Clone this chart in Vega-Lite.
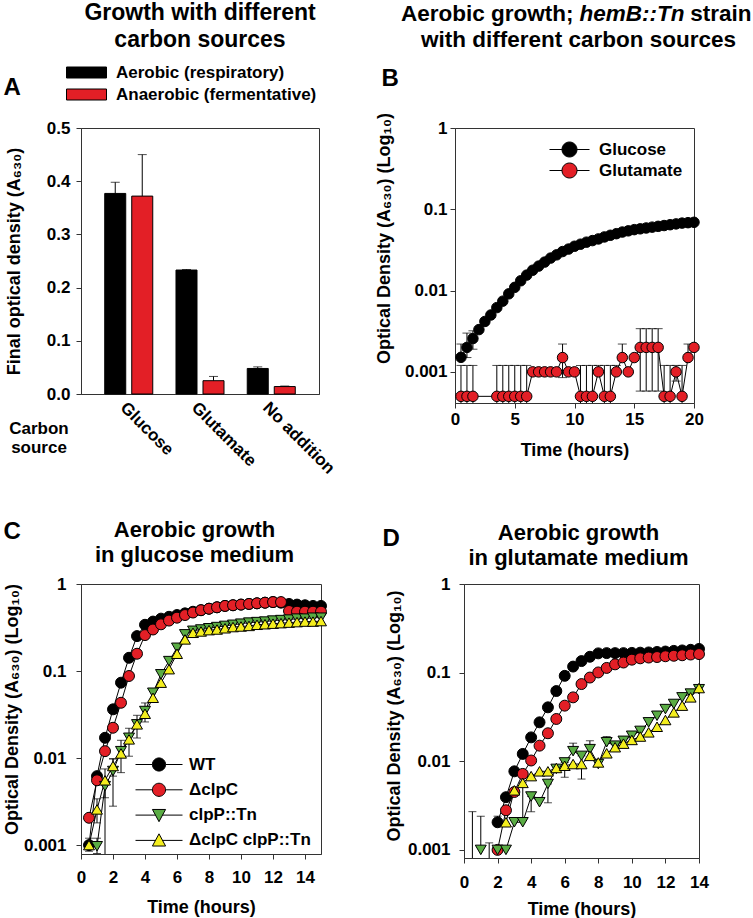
{
"$schema": "https://vega.github.io/schema/vega-lite/v6.json",
"padding": {"left": 2, "top": 0, "right": 2, "bottom": 2},
"config": {
  "font": "Liberation Sans",
  "view": {"stroke": "#333", "strokeWidth": 1},
  "axis": {"labelFont": "Liberation Sans", "titleFont": "Liberation Sans", "labelFontSize": 17, "labelFontWeight": "bold", "labelColor": "#000", "titleFontSize": 18, "titleFontWeight": "bold", "titleColor": "#000", "domainColor": "#333", "tickColor": "#333", "tickSize": 5, "grid": false, "labelFlush": false, "labelOverlap": false},
  "legend": {"labelFont": "Liberation Sans", "labelFontSize": 17, "labelFontWeight": "bold", "labelColor": "#000", "padding": 0, "labelLimit": 400}
},
"datasets": {
  "dsA": [
    {"source": "Glucose", "cond": "Aerobic (respiratory)", "od": 0.377, "hi": 0.398},
    {"source": "Glucose", "cond": "Anaerobic (fermentative)", "od": 0.372, "hi": 0.45},
    {"source": "Glutamate", "cond": "Aerobic (respiratory)", "od": 0.233, "hi": 0.234},
    {"source": "Glutamate", "cond": "Anaerobic (fermentative)", "od": 0.025, "hi": 0.033},
    {"source": "No addition", "cond": "Aerobic (respiratory)", "od": 0.048, "hi": 0.051},
    {"source": "No addition", "cond": "Anaerobic (fermentative)", "od": 0.014, "hi": 0.015}
  ],
  "dsB": [
    {"s": "Glucose", "t": 0.5, "od": 0.00151, "lo": 0.00151, "hi": 0.0022},
    {"s": "Glucose", "t": 1, "od": 0.002, "lo": 0.0015, "hi": 0.003},
    {"s": "Glucose", "t": 1.5, "od": 0.00257, "lo": 0.0019, "hi": 0.0032},
    {"s": "Glucose", "t": 2, "od": 0.00331},
    {"s": "Glucose", "t": 2.5, "od": 0.00417},
    {"s": "Glucose", "t": 3, "od": 0.00501},
    {"s": "Glucose", "t": 3.5, "od": 0.00617},
    {"s": "Glucose", "t": 4, "od": 0.00741},
    {"s": "Glucose", "t": 4.5, "od": 0.00912},
    {"s": "Glucose", "t": 5, "od": 0.01096},
    {"s": "Glucose", "t": 5.5, "od": 0.0132},
    {"s": "Glucose", "t": 6, "od": 0.0155},
    {"s": "Glucose", "t": 6.5, "od": 0.0178},
    {"s": "Glucose", "t": 7, "od": 0.02},
    {"s": "Glucose", "t": 7.5, "od": 0.0224},
    {"s": "Glucose", "t": 8, "od": 0.0251},
    {"s": "Glucose", "t": 8.5, "od": 0.0275},
    {"s": "Glucose", "t": 9, "od": 0.0302},
    {"s": "Glucose", "t": 9.5, "od": 0.0324},
    {"s": "Glucose", "t": 10, "od": 0.0351},
    {"s": "Glucose", "t": 10.5, "od": 0.0372},
    {"s": "Glucose", "t": 11, "od": 0.0394},
    {"s": "Glucose", "t": 11.5, "od": 0.0412},
    {"s": "Glucose", "t": 12, "od": 0.0432},
    {"s": "Glucose", "t": 12.5, "od": 0.0457},
    {"s": "Glucose", "t": 13, "od": 0.0479},
    {"s": "Glucose", "t": 13.5, "od": 0.0501},
    {"s": "Glucose", "t": 14, "od": 0.0525},
    {"s": "Glucose", "t": 14.5, "od": 0.0543},
    {"s": "Glucose", "t": 15, "od": 0.0562},
    {"s": "Glucose", "t": 15.5, "od": 0.0575},
    {"s": "Glucose", "t": 16, "od": 0.0589},
    {"s": "Glucose", "t": 16.5, "od": 0.0603},
    {"s": "Glucose", "t": 17, "od": 0.0617},
    {"s": "Glucose", "t": 17.5, "od": 0.0631},
    {"s": "Glucose", "t": 18, "od": 0.0646},
    {"s": "Glucose", "t": 18.5, "od": 0.0661},
    {"s": "Glucose", "t": 19, "od": 0.0676},
    {"s": "Glucose", "t": 19.5, "od": 0.0684},
    {"s": "Glucose", "t": 20, "od": 0.0692},
    {"s": "Glutamate", "t": 0.5, "od": 0.0005, "lo": 0.0003, "hi": 0.0012},
    {"s": "Glutamate", "t": 1, "od": 0.0005, "lo": 0.0003, "hi": 0.0012},
    {"s": "Glutamate", "t": 1.5, "od": 0.0005, "lo": 0.0003, "hi": 0.0012},
    {"s": "Glutamate", "t": 3.5, "od": 0.0005, "lo": 0.0003, "hi": 0.0012},
    {"s": "Glutamate", "t": 4, "od": 0.0005, "lo": 0.0003, "hi": 0.0012},
    {"s": "Glutamate", "t": 4.5, "od": 0.0005, "lo": 0.0003, "hi": 0.0012},
    {"s": "Glutamate", "t": 5, "od": 0.0005, "lo": 0.0003, "hi": 0.0012},
    {"s": "Glutamate", "t": 5.5, "od": 0.0005, "lo": 0.0003, "hi": 0.0012},
    {"s": "Glutamate", "t": 6, "od": 0.0005, "lo": 0.0003, "hi": 0.0012},
    {"s": "Glutamate", "t": 6.5, "od": 0.001},
    {"s": "Glutamate", "t": 7, "od": 0.001},
    {"s": "Glutamate", "t": 7.5, "od": 0.001},
    {"s": "Glutamate", "t": 8, "od": 0.001},
    {"s": "Glutamate", "t": 8.5, "od": 0.001},
    {"s": "Glutamate", "t": 9, "od": 0.0015, "lo": 0.00085, "hi": 0.0022},
    {"s": "Glutamate", "t": 9.5, "od": 0.001},
    {"s": "Glutamate", "t": 10, "od": 0.001},
    {"s": "Glutamate", "t": 10.5, "od": 0.0005, "lo": 0.0003, "hi": 0.0012},
    {"s": "Glutamate", "t": 11, "od": 0.0005, "lo": 0.0003, "hi": 0.0012},
    {"s": "Glutamate", "t": 11.5, "od": 0.0005, "lo": 0.0003, "hi": 0.0012},
    {"s": "Glutamate", "t": 12, "od": 0.001, "lo": 0.001, "hi": 0.0012},
    {"s": "Glutamate", "t": 12.5, "od": 0.0005, "lo": 0.0003, "hi": 0.0012},
    {"s": "Glutamate", "t": 13, "od": 0.0005, "lo": 0.0003, "hi": 0.0012},
    {"s": "Glutamate", "t": 13.5, "od": 0.001, "lo": 0.001, "hi": 0.0012},
    {"s": "Glutamate", "t": 14, "od": 0.0015, "lo": 0.0015, "hi": 0.0022},
    {"s": "Glutamate", "t": 14.5, "od": 0.001},
    {"s": "Glutamate", "t": 15, "od": 0.0015},
    {"s": "Glutamate", "t": 15.5, "od": 0.002, "lo": 0.00058, "hi": 0.0034},
    {"s": "Glutamate", "t": 16, "od": 0.002, "lo": 0.00058, "hi": 0.0034},
    {"s": "Glutamate", "t": 16.5, "od": 0.002, "lo": 0.00058, "hi": 0.0034},
    {"s": "Glutamate", "t": 17, "od": 0.002, "lo": 0.00058, "hi": 0.0034},
    {"s": "Glutamate", "t": 17.5, "od": 0.0005, "lo": 0.0003, "hi": 0.0012},
    {"s": "Glutamate", "t": 18, "od": 0.0005, "lo": 0.0003, "hi": 0.0012},
    {"s": "Glutamate", "t": 18.5, "od": 0.001, "lo": 0.00077, "hi": 0.0012},
    {"s": "Glutamate", "t": 19, "od": 0.0005, "lo": 0.0003, "hi": 0.0012},
    {"s": "Glutamate", "t": 19.5, "od": 0.0015, "lo": 0.0015, "hi": 0.0022},
    {"s": "Glutamate", "t": 20, "od": 0.002, "lo": 0.002, "hi": 0.0022}
  ],
  "dsC": [
    {"s": "WT", "t": 0.5, "od": 0.001, "lo": 0.00085, "hi": 0.0012},
    {"s": "WT", "t": 1, "od": 0.0062},
    {"s": "WT", "t": 1.5, "od": 0.0171},
    {"s": "WT", "t": 2, "od": 0.0363},
    {"s": "WT", "t": 2.5, "od": 0.0735},
    {"s": "WT", "t": 3, "od": 0.142},
    {"s": "WT", "t": 3.5, "od": 0.252},
    {"s": "WT", "t": 4, "od": 0.34},
    {"s": "WT", "t": 4.5, "od": 0.37},
    {"s": "WT", "t": 5, "od": 0.4},
    {"s": "WT", "t": 5.5, "od": 0.42},
    {"s": "WT", "t": 6, "od": 0.44},
    {"s": "WT", "t": 6.5, "od": 0.46},
    {"s": "WT", "t": 7, "od": 0.48},
    {"s": "WT", "t": 7.5, "od": 0.5},
    {"s": "WT", "t": 8, "od": 0.52},
    {"s": "WT", "t": 8.5, "od": 0.54},
    {"s": "WT", "t": 9, "od": 0.56},
    {"s": "WT", "t": 9.5, "od": 0.57},
    {"s": "WT", "t": 10, "od": 0.58},
    {"s": "WT", "t": 10.5, "od": 0.59},
    {"s": "WT", "t": 11, "od": 0.6},
    {"s": "WT", "t": 11.5, "od": 0.61},
    {"s": "WT", "t": 12, "od": 0.62},
    {"s": "WT", "t": 12.5, "od": 0.61},
    {"s": "WT", "t": 13, "od": 0.59},
    {"s": "WT", "t": 13.5, "od": 0.58},
    {"s": "WT", "t": 14, "od": 0.57},
    {"s": "WT", "t": 14.5, "od": 0.56},
    {"s": "WT", "t": 15, "od": 0.56},
    {"s": "ΔclpC", "t": 0.5, "od": 0.00206},
    {"s": "ΔclpC", "t": 1, "od": 0.00555},
    {"s": "ΔclpC", "t": 1.5, "od": 0.012},
    {"s": "ΔclpC", "t": 2, "od": 0.0223},
    {"s": "ΔclpC", "t": 2.5, "od": 0.0432},
    {"s": "ΔclpC", "t": 3, "od": 0.0877},
    {"s": "ΔclpC", "t": 3.5, "od": 0.158},
    {"s": "ΔclpC", "t": 4, "od": 0.259},
    {"s": "ΔclpC", "t": 4.5, "od": 0.3},
    {"s": "ΔclpC", "t": 5, "od": 0.344},
    {"s": "ΔclpC", "t": 5.5, "od": 0.38},
    {"s": "ΔclpC", "t": 6, "od": 0.41},
    {"s": "ΔclpC", "t": 6.5, "od": 0.44},
    {"s": "ΔclpC", "t": 7, "od": 0.47},
    {"s": "ΔclpC", "t": 7.5, "od": 0.5},
    {"s": "ΔclpC", "t": 8, "od": 0.52},
    {"s": "ΔclpC", "t": 8.5, "od": 0.54},
    {"s": "ΔclpC", "t": 9, "od": 0.56},
    {"s": "ΔclpC", "t": 9.5, "od": 0.57},
    {"s": "ΔclpC", "t": 10, "od": 0.58},
    {"s": "ΔclpC", "t": 10.5, "od": 0.59},
    {"s": "ΔclpC", "t": 11, "od": 0.6},
    {"s": "ΔclpC", "t": 11.5, "od": 0.61},
    {"s": "ΔclpC", "t": 12, "od": 0.62},
    {"s": "ΔclpC", "t": 12.5, "od": 0.62},
    {"s": "ΔclpC", "t": 13, "od": 0.49},
    {"s": "ΔclpC", "t": 13.5, "od": 0.48},
    {"s": "ΔclpC", "t": 14, "od": 0.48},
    {"s": "ΔclpC", "t": 14.5, "od": 0.48},
    {"s": "ΔclpC", "t": 15, "od": 0.48},
    {"s": "clpP::Tn", "t": 1, "od": 0.00097, "lo": 0.0008, "hi": 0.0012},
    {"s": "clpP::Tn", "t": 1.5, "od": 0.00476, "lo": 0.0003, "hi": 0.0055},
    {"s": "clpP::Tn", "t": 2, "od": 0.0071, "lo": 0.0028, "hi": 0.0098},
    {"s": "clpP::Tn", "t": 2.5, "od": 0.012, "lo": 0.0068, "hi": 0.016},
    {"s": "clpP::Tn", "t": 3, "od": 0.0171, "lo": 0.0105, "hi": 0.022},
    {"s": "clpP::Tn", "t": 3.5, "od": 0.0244, "lo": 0.017, "hi": 0.031},
    {"s": "clpP::Tn", "t": 4, "od": 0.0347, "lo": 0.026, "hi": 0.043},
    {"s": "clpP::Tn", "t": 4.5, "od": 0.0563, "lo": 0.045, "hi": 0.062},
    {"s": "clpP::Tn", "t": 5, "od": 0.0917},
    {"s": "clpP::Tn", "t": 5.5, "od": 0.13},
    {"s": "clpP::Tn", "t": 6, "od": 0.185},
    {"s": "clpP::Tn", "t": 6.5, "od": 0.264},
    {"s": "clpP::Tn", "t": 7, "od": 0.29},
    {"s": "clpP::Tn", "t": 7.5, "od": 0.3},
    {"s": "clpP::Tn", "t": 8, "od": 0.31},
    {"s": "clpP::Tn", "t": 8.5, "od": 0.32},
    {"s": "clpP::Tn", "t": 9, "od": 0.33},
    {"s": "clpP::Tn", "t": 9.5, "od": 0.34},
    {"s": "clpP::Tn", "t": 10, "od": 0.35},
    {"s": "clpP::Tn", "t": 10.5, "od": 0.36},
    {"s": "clpP::Tn", "t": 11, "od": 0.365},
    {"s": "clpP::Tn", "t": 11.5, "od": 0.37},
    {"s": "clpP::Tn", "t": 12, "od": 0.38},
    {"s": "clpP::Tn", "t": 12.5, "od": 0.385},
    {"s": "clpP::Tn", "t": 13, "od": 0.39},
    {"s": "clpP::Tn", "t": 13.5, "od": 0.4},
    {"s": "clpP::Tn", "t": 14, "od": 0.4},
    {"s": "clpP::Tn", "t": 14.5, "od": 0.41},
    {"s": "clpP::Tn", "t": 15, "od": 0.41},
    {"s": "ΔclpC clpP::Tn", "t": 0.5, "od": 0.001},
    {"s": "ΔclpC clpP::Tn", "t": 1, "od": 0.00257, "lo": 0.0018, "hi": 0.0034},
    {"s": "ΔclpC clpP::Tn", "t": 1.5, "od": 0.00555, "lo": 0.0035, "hi": 0.0075},
    {"s": "ΔclpC clpP::Tn", "t": 2, "od": 0.0081, "lo": 0.0062, "hi": 0.0098},
    {"s": "ΔclpC clpP::Tn", "t": 2.5, "od": 0.0113},
    {"s": "ΔclpC clpP::Tn", "t": 3, "od": 0.0164},
    {"s": "ΔclpC clpP::Tn", "t": 3.5, "od": 0.0244},
    {"s": "ΔclpC clpP::Tn", "t": 4, "od": 0.0323},
    {"s": "ΔclpC clpP::Tn", "t": 4.5, "od": 0.0493},
    {"s": "ΔclpC clpP::Tn", "t": 5, "od": 0.0735},
    {"s": "ΔclpC clpP::Tn", "t": 5.5, "od": 0.105},
    {"s": "ΔclpC clpP::Tn", "t": 6, "od": 0.158},
    {"s": "ΔclpC clpP::Tn", "t": 6.5, "od": 0.231},
    {"s": "ΔclpC clpP::Tn", "t": 7, "od": 0.275},
    {"s": "ΔclpC clpP::Tn", "t": 7.5, "od": 0.285},
    {"s": "ΔclpC clpP::Tn", "t": 8, "od": 0.295},
    {"s": "ΔclpC clpP::Tn", "t": 8.5, "od": 0.3},
    {"s": "ΔclpC clpP::Tn", "t": 9, "od": 0.31},
    {"s": "ΔclpC clpP::Tn", "t": 9.5, "od": 0.32},
    {"s": "ΔclpC clpP::Tn", "t": 10, "od": 0.325},
    {"s": "ΔclpC clpP::Tn", "t": 10.5, "od": 0.33},
    {"s": "ΔclpC clpP::Tn", "t": 11, "od": 0.34},
    {"s": "ΔclpC clpP::Tn", "t": 11.5, "od": 0.345},
    {"s": "ΔclpC clpP::Tn", "t": 12, "od": 0.35},
    {"s": "ΔclpC clpP::Tn", "t": 12.5, "od": 0.355},
    {"s": "ΔclpC clpP::Tn", "t": 13, "od": 0.36},
    {"s": "ΔclpC clpP::Tn", "t": 13.5, "od": 0.365},
    {"s": "ΔclpC clpP::Tn", "t": 14, "od": 0.37},
    {"s": "ΔclpC clpP::Tn", "t": 14.5, "od": 0.37},
    {"s": "ΔclpC clpP::Tn", "t": 15, "od": 0.375}
  ],
  "dsD": [
    {"s": "WT", "t": 2, "od": 0.00205, "lo": 0.00205, "hi": 0.0024},
    {"s": "WT", "t": 2.5, "od": 0.00393},
    {"s": "WT", "t": 3, "od": 0.0077},
    {"s": "WT", "t": 3.5, "od": 0.0121},
    {"s": "WT", "t": 4, "od": 0.0186},
    {"s": "WT", "t": 4.5, "od": 0.0275},
    {"s": "WT", "t": 5, "od": 0.0406},
    {"s": "WT", "t": 5.5, "od": 0.062},
    {"s": "WT", "t": 6, "od": 0.092},
    {"s": "WT", "t": 6.5, "od": 0.117},
    {"s": "WT", "t": 7, "od": 0.135},
    {"s": "WT", "t": 7.5, "od": 0.151},
    {"s": "WT", "t": 8, "od": 0.165},
    {"s": "WT", "t": 8.5, "od": 0.166},
    {"s": "WT", "t": 9, "od": 0.166},
    {"s": "WT", "t": 9.5, "od": 0.166},
    {"s": "WT", "t": 10, "od": 0.167},
    {"s": "WT", "t": 10.5, "od": 0.168},
    {"s": "WT", "t": 11, "od": 0.169},
    {"s": "WT", "t": 11.5, "od": 0.171},
    {"s": "WT", "t": 12, "od": 0.173},
    {"s": "WT", "t": 12.5, "od": 0.176},
    {"s": "WT", "t": 13, "od": 0.178},
    {"s": "WT", "t": 13.5, "od": 0.181},
    {"s": "WT", "t": 14, "od": 0.185},
    {"s": "ΔclpC", "t": 2, "od": 0.001},
    {"s": "ΔclpC", "t": 2.5, "od": 0.0028},
    {"s": "ΔclpC", "t": 3, "od": 0.0045},
    {"s": "ΔclpC", "t": 3.5, "od": 0.0072},
    {"s": "ΔclpC", "t": 4, "od": 0.0102},
    {"s": "ΔclpC", "t": 4.5, "od": 0.015},
    {"s": "ΔclpC", "t": 5, "od": 0.0207},
    {"s": "ΔclpC", "t": 5.5, "od": 0.03},
    {"s": "ΔclpC", "t": 6, "od": 0.0424},
    {"s": "ΔclpC", "t": 6.5, "od": 0.0526},
    {"s": "ΔclpC", "t": 7, "od": 0.0743},
    {"s": "ΔclpC", "t": 7.5, "od": 0.088},
    {"s": "ΔclpC", "t": 8, "od": 0.1005},
    {"s": "ΔclpC", "t": 8.5, "od": 0.113},
    {"s": "ΔclpC", "t": 9, "od": 0.124},
    {"s": "ΔclpC", "t": 9.5, "od": 0.13},
    {"s": "ΔclpC", "t": 10, "od": 0.14},
    {"s": "ΔclpC", "t": 10.5, "od": 0.145},
    {"s": "ΔclpC", "t": 11, "od": 0.148},
    {"s": "ΔclpC", "t": 11.5, "od": 0.15},
    {"s": "ΔclpC", "t": 12, "od": 0.153},
    {"s": "ΔclpC", "t": 12.5, "od": 0.155},
    {"s": "ΔclpC", "t": 13, "od": 0.157},
    {"s": "ΔclpC", "t": 13.5, "od": 0.16},
    {"s": "ΔclpC", "t": 14, "od": 0.162},
    {"s": "clpP::Tn", "t": 0.5, "od": null, "lo": 0.0005, "hi": 0.0027},
    {"s": "clpP::Tn", "t": 1, "od": 0.001, "lo": 0.001, "hi": 0.0024},
    {"s": "clpP::Tn", "t": 1.5, "od": null, "lo": 0.0005, "hi": 0.0012},
    {"s": "clpP::Tn", "t": 2, "od": 0.001},
    {"s": "clpP::Tn", "t": 2.5, "od": 0.001},
    {"s": "clpP::Tn", "t": 3, "od": 0.00205},
    {"s": "clpP::Tn", "t": 3.5, "od": 0.00205, "lo": 0.00205, "hi": 0.0058},
    {"s": "clpP::Tn", "t": 4, "od": 0.004, "lo": 0.0027, "hi": 0.004},
    {"s": "clpP::Tn", "t": 4.5, "od": 0.00345},
    {"s": "clpP::Tn", "t": 5, "od": 0.00555, "lo": 0.0034, "hi": 0.00555},
    {"s": "clpP::Tn", "t": 5.5, "od": 0.0082},
    {"s": "clpP::Tn", "t": 6, "od": 0.0097, "lo": 0.0066, "hi": 0.0097},
    {"s": "clpP::Tn", "t": 6.5, "od": 0.013, "lo": 0.013, "hi": 0.016},
    {"s": "clpP::Tn", "t": 7, "od": 0.0115, "lo": 0.0063, "hi": 0.0115},
    {"s": "clpP::Tn", "t": 7.5, "od": 0.0137, "lo": 0.0137, "hi": 0.017},
    {"s": "clpP::Tn", "t": 8, "od": 0.0093},
    {"s": "clpP::Tn", "t": 8.5, "od": 0.0164, "lo": 0.0164, "hi": 0.019},
    {"s": "clpP::Tn", "t": 9, "od": 0.015},
    {"s": "clpP::Tn", "t": 9.5, "od": 0.017},
    {"s": "clpP::Tn", "t": 10, "od": 0.0194},
    {"s": "clpP::Tn", "t": 10.5, "od": 0.022},
    {"s": "clpP::Tn", "t": 11, "od": 0.0275},
    {"s": "clpP::Tn", "t": 11.5, "od": 0.0326},
    {"s": "clpP::Tn", "t": 12, "od": 0.0388},
    {"s": "clpP::Tn", "t": 12.5, "od": 0.0443},
    {"s": "clpP::Tn", "t": 13, "od": 0.0526},
    {"s": "clpP::Tn", "t": 13.5, "od": 0.058},
    {"s": "clpP::Tn", "t": 14, "od": 0.065},
    {"s": "ΔclpC clpP::Tn", "t": 2.5, "od": 0.00205},
    {"s": "ΔclpC clpP::Tn", "t": 3, "od": 0.0047},
    {"s": "ΔclpC clpP::Tn", "t": 3.5, "od": 0.0057},
    {"s": "ΔclpC clpP::Tn", "t": 4, "od": 0.0068},
    {"s": "ΔclpC clpP::Tn", "t": 4.5, "od": 0.0077},
    {"s": "ΔclpC clpP::Tn", "t": 5, "od": 0.0077},
    {"s": "ΔclpC clpP::Tn", "t": 5.5, "od": 0.0084},
    {"s": "ΔclpC clpP::Tn", "t": 6, "od": 0.0089},
    {"s": "ΔclpC clpP::Tn", "t": 6.5, "od": 0.0093},
    {"s": "ΔclpC clpP::Tn", "t": 7, "od": 0.0093},
    {"s": "ΔclpC clpP::Tn", "t": 7.5, "od": 0.0115},
    {"s": "ΔclpC clpP::Tn", "t": 8, "od": 0.0097},
    {"s": "ΔclpC clpP::Tn", "t": 8.5, "od": 0.0123},
    {"s": "ΔclpC clpP::Tn", "t": 9, "od": 0.0144},
    {"s": "ΔclpC clpP::Tn", "t": 9.5, "od": 0.0158},
    {"s": "ΔclpC clpP::Tn", "t": 10, "od": 0.0174},
    {"s": "ΔclpC clpP::Tn", "t": 10.5, "od": 0.019},
    {"s": "ΔclpC clpP::Tn", "t": 11, "od": 0.0212},
    {"s": "ΔclpC clpP::Tn", "t": 11.5, "od": 0.0245},
    {"s": "ΔclpC clpP::Tn", "t": 12, "od": 0.0292},
    {"s": "ΔclpC clpP::Tn", "t": 12.5, "od": 0.0356},
    {"s": "ΔclpC clpP::Tn", "t": 13, "od": 0.0424},
    {"s": "ΔclpC clpP::Tn", "t": 13.5, "od": 0.0526},
    {"s": "ΔclpC clpP::Tn", "t": 14, "od": 0.067}
  ]
},
"spacing": 40,
"resolve": {"scale": {"fill": "independent", "shape": "independent", "color": "independent", "stroke": "independent"}, "legend": {"fill": "independent", "shape": "independent", "color": "independent", "stroke": "independent"}},
"vconcat": [
 {"hconcat": [
  {
   "width": 238, "height": 266,
   "data": {"name": "dsA"},
   "resolve": {"axis": {"x": "independent", "y": "independent"}},
   "layer": [
    {
     "mark": {"type": "bar", "stroke": "#000", "strokeWidth": 1},
     "encoding": {
      "x": {"field": "source", "type": "nominal", "sort": ["Glucose", "Glutamate", "No addition"], "scale": {"paddingInner": 0, "paddingOuter": 0.17},
        "axis": {"orient": "bottom", "title": ["Carbon", "source"], "titleX": -42.5, "titleY": 39, "titleAlign": "center", "titleBaseline": "alphabetic", "titleLineHeight": 19.5, "titleFontSize": 17, "labelAngle": 45, "labelAlign": "left", "labelBaseline": "top", "ticks": false, "labelPadding": 5}},
      "xOffset": {"field": "cond", "type": "nominal", "sort": ["Aerobic (respiratory)", "Anaerobic (fermentative)"], "scale": {"paddingInner": 0.222, "paddingOuter": 0.43}},
      "y": {"field": "od", "type": "quantitative", "scale": {"domain": [0, 0.5], "nice": false},
        "axis": {"orient": "left", "values": [0, 0.1, 0.2, 0.3, 0.4, 0.5], "format": ".1f", "title": "Final optical density (A₆₃₀)", "titleX": -66.5, "titleY": 133, "titleAngle": 270, "titleAlign": "center", "titleBaseline": "middle", "labelPadding": 6}},
      "fill": {"field": "cond", "type": "nominal", "scale": {"domain": ["Aerobic (respiratory)", "Anaerobic (fermentative)"], "range": ["#000000", "#e31f26"]},
        "legend": {"title": null, "orient": "none", "legendX": -15, "legendY": -66.5, "symbolType": "M-1,-0.275H1V0.275H-1Z", "symbolSize": 1600, "clipHeight": 22, "rowPadding": 0, "labelOffset": 9, "labelLimit": 400, "symbolStrokeWidth": 1, "symbolStrokeColor": "#000"}}
     }
    },
    {
     "mark": {"type": "rule", "color": "#000", "strokeWidth": 1},
     "encoding": {
      "x": {"field": "source", "type": "nominal", "sort": ["Glucose", "Glutamate", "No addition"], "axis": null},
      "xOffset": {"field": "cond", "type": "nominal", "sort": ["Aerobic (respiratory)", "Anaerobic (fermentative)"]},
      "y": {"field": "od", "type": "quantitative", "axis": {"orient": "left", "title": "A", "titleAngle": 0, "titleX": -78, "titleY": -34, "titleAlign": "left", "titleBaseline": "alphabetic", "titleFontSize": 24, "labels": false, "ticks": false, "domain": false}},
      "y2": {"field": "hi"}
     }
    },
    {
     "mark": {"type": "tick", "orient": "horizontal", "size": 9, "thickness": 1, "color": "#000"},
     "encoding": {
      "x": {"field": "source", "type": "nominal", "sort": ["Glucose", "Glutamate", "No addition"],
        "axis": {"orient": "top", "title": ["Growth with different", "carbon sources"], "titleX": 118.5, "titleY": -109, "titleAlign": "center", "titleBaseline": "alphabetic", "titleFontSize": 23, "titleLineHeight": 27, "labels": false, "ticks": false, "domain": false}},
      "xOffset": {"field": "cond", "type": "nominal", "sort": ["Aerobic (respiratory)", "Anaerobic (fermentative)"]},
      "y": {"field": "hi", "type": "quantitative", "axis": null}
     }
    }
   ]
  },
  {
   "width": 239, "height": 275,
   "data": {"name": "dsB"},
   "resolve": {"axis": {"x": "independent", "y": "independent"}},
   "layer": [
    {
     "transform": [{"filter": "datum.hi != null"}],
     "mark": {"type": "rule", "color": "#000", "strokeWidth": 1, "clip": true},
     "encoding": {
      "x": {"field": "t", "type": "quantitative", "scale": {"domain": [0, 20], "nice": false},
        "axis": {"orient": "top", "title": "Aerobic growth;", "titleX": 118, "titleY": -108, "titleAlign": "right", "titleBaseline": "alphabetic", "titleFontSize": 22.5, "labels": false, "ticks": false, "domain": false}},
      "y": {"field": "lo", "type": "quantitative", "scale": {"type": "log", "domain": [0.000414, 1], "nice": false},
        "axis": {"orient": "left", "title": "B", "titleAngle": 0, "titleX": -74, "titleY": -43, "titleAlign": "left", "titleBaseline": "alphabetic", "titleFontSize": 24, "labels": false, "ticks": false, "domain": false}},
      "y2": {"field": "hi"}
     }
    },
    {
     "transform": [{"filter": "datum.hi != null"}],
     "mark": {"type": "tick", "orient": "horizontal", "size": 9, "thickness": 1, "color": "#000", "clip": true},
     "encoding": {
      "x": {"field": "t", "type": "quantitative", "scale": {"domain": [0, 20], "nice": false},
        "axis": {"orient": "top", "title": "hemB::Tn", "titleX": 124, "titleY": -108, "titleAlign": "left", "titleBaseline": "alphabetic", "titleFontSize": 22.5, "titleFontStyle": "italic", "labels": false, "ticks": false, "domain": false}},
      "y": {"field": "hi", "type": "quantitative", "scale": {"type": "log", "domain": [0.000414, 1], "nice": false}, "axis": null}
     }
    },
    {
     "transform": [{"filter": "datum.lo != null && datum.od != null && datum.lo < datum.od"}],
     "mark": {"type": "tick", "orient": "horizontal", "size": 9, "thickness": 1, "color": "#000", "clip": true},
     "encoding": {
      "x": {"field": "t", "type": "quantitative", "scale": {"domain": [0, 20], "nice": false},
        "axis": {"orient": "top", "title": "strain", "titleX": 296, "titleY": -108, "titleAlign": "right", "titleBaseline": "alphabetic", "titleFontSize": 22.5, "labels": false, "ticks": false, "domain": false}},
      "y": {"field": "lo", "type": "quantitative", "scale": {"type": "log", "domain": [0.000414, 1], "nice": false}, "axis": null}
     }
    },
    {
     "mark": {"type": "line", "color": "#000", "strokeWidth": 1},
     "encoding": {
      "x": {"field": "t", "type": "quantitative", "scale": {"domain": [0, 20], "nice": false},
        "axis": {"orient": "top", "title": "with different carbon sources", "titleX": 123, "titleY": -82, "titleAlign": "center", "titleBaseline": "alphabetic", "titleFontSize": 22.5, "labels": false, "ticks": false, "domain": false}},
      "y": {"field": "od", "type": "quantitative", "scale": {"type": "log", "domain": [0.000414, 1], "nice": false}, "axis": null},
      "detail": {"field": "s", "type": "nominal"}
     }
    },
    {
     "mark": {"type": "point", "filled": true, "stroke": "#000", "strokeWidth": 1, "size": 110, "opacity": 1},
     "encoding": {
      "x": {"field": "t", "type": "quantitative", "scale": {"domain": [0, 20], "nice": false},
        "axis": {"orient": "bottom", "values": [0, 5, 10, 15, 20], "title": "Time (hours)", "labelPadding": 3, "titlePadding": 14}},
      "y": {"field": "od", "type": "quantitative", "scale": {"type": "log", "domain": [0.000414, 1], "nice": false},
        "axis": {"orient": "left", "values": [0.001, 0.01, 0.1, 1], "format": "~g", "title": "Optical Density (A₆₃₀) (Log₁₀)", "titleX": -70.5, "titleY": 110, "titleAngle": 270, "titleAlign": "center", "titleBaseline": "middle", "labelPadding": 3}},
      "fill": {"field": "s", "type": "nominal", "scale": {"domain": ["Glucose", "Glutamate"], "range": ["#000000", "#e31f26"]},
        "legend": {"title": null, "orient": "none", "legendX": 94, "legendY": 11, "symbolType": "M-1,0H-0.375A0.375,0.375,0,1,1,0.375,0H1M0.375,0A0.375,0.375,0,1,1,-0.375,0", "symbolSize": 1600, "clipHeight": 21, "rowPadding": 0, "labelOffset": 9, "symbolStrokeWidth": 1, "symbolStrokeColor": "#000"}}
     }
    }
   ]
  }
 ], "spacing": 35, "resolve": {"scale": {"fill": "independent", "shape": "independent", "color": "independent", "stroke": "independent"}, "legend": {"fill": "independent", "shape": "independent", "color": "independent", "stroke": "independent"}}},
 {"hconcat": [
  {
   "width": 240, "height": 270,
   "data": {"name": "dsC"},
   "resolve": {"axis": {"x": "independent", "y": "independent"}},
   "layer": [
    {
     "transform": [{"filter": "false"}],
     "mark": {"type": "point", "filled": true, "stroke": "#000", "strokeWidth": 1, "opacity": 1},
     "encoding": {
      "x": {"field": "t", "type": "quantitative", "scale": {"domain": [0, 15], "nice": false}, "axis": null},
      "y": {"field": "od", "type": "quantitative", "scale": {"type": "log", "domain": [0.00079, 1], "nice": false}, "axis": null},
      "fill": {"field": "s", "type": "nominal", "scale": {"domain": ["WT", "ΔclpC", "clpP::Tn", "ΔclpC clpP::Tn"], "range": ["#000000", "#e31f26", "#5aac44", "#f4ee1e"]},
        "legend": {"title": null, "orient": "none", "legendX": 54, "legendY": 168, "symbolSize": 2209, "clipHeight": 25, "rowPadding": 0.3, "labelOffset": 6, "symbolStrokeWidth": 1, "symbolStrokeColor": "#000"}},
      "stroke": {"field": "s", "type": "nominal", "scale": {"domain": ["WT", "ΔclpC", "clpP::Tn", "ΔclpC clpP::Tn"], "range": ["#000000", "#000000", "#000000", "#000000"]},
        "legend": {"title": null, "orient": "none", "legendX": 54, "legendY": 168, "symbolSize": 2209, "clipHeight": 25, "rowPadding": 0.3, "labelOffset": 6, "symbolStrokeWidth": 1}},
      "shape": {"field": "s", "type": "nominal", "scale": {"domain": ["WT", "ΔclpC", "clpP::Tn", "ΔclpC clpP::Tn"], "range": ["M-1,0H-0.28A0.28,0.28,0,1,1,0.28,0H1M0.28,0A0.28,0.28,0,1,1,-0.28,0", "M-1,0H-0.28A0.28,0.28,0,1,1,0.28,0H1M0.28,0A0.28,0.28,0,1,1,-0.28,0", "M-1,0H-0.151M0.151,0H1M-0.28,-0.24L0.28,-0.24L0,0.28Z", "M-1,0H-0.151M0.151,0H1M0,-0.28L0.28,0.24L-0.28,0.24Z"]},
        "legend": {"title": null, "orient": "none", "legendX": 54, "legendY": 168, "symbolSize": 2209, "clipHeight": 25, "rowPadding": 0.3, "labelOffset": 6, "symbolStrokeWidth": 1, "symbolStrokeColor": "#000"}}
     }
    },
    {
     "transform": [{"filter": "datum.hi != null"}],
     "mark": {"type": "rule", "color": "#000", "strokeWidth": 1, "clip": true},
     "encoding": {
      "x": {"field": "t", "type": "quantitative", "scale": {"domain": [0, 15], "nice": false},
        "axis": {"orient": "top", "title": ["Aerobic growth", "in glucose medium"], "titleX": 113, "titleY": -48, "titleAlign": "center", "titleBaseline": "alphabetic", "titleFontSize": 22, "titleLineHeight": 25, "labels": false, "ticks": false, "domain": false}},
      "y": {"field": "lo", "type": "quantitative", "scale": {"type": "log", "domain": [0.00079, 1], "nice": false},
        "axis": {"orient": "left", "title": "C", "titleAngle": 0, "titleX": -78, "titleY": -46, "titleAlign": "left", "titleBaseline": "alphabetic", "titleFontSize": 24, "labels": false, "ticks": false, "domain": false}},
      "y2": {"field": "hi"}
     }
    },
    {
     "transform": [{"filter": "datum.hi != null"}],
     "mark": {"type": "tick", "orient": "horizontal", "size": 8, "thickness": 1, "color": "#000", "clip": true},
     "encoding": {
      "x": {"field": "t", "type": "quantitative", "scale": {"domain": [0, 15], "nice": false}, "axis": null},
      "y": {"field": "hi", "type": "quantitative", "scale": {"type": "log", "domain": [0.00079, 1], "nice": false}, "axis": null}
     }
    },
    {
     "transform": [{"filter": "datum.lo != null && datum.od != null && datum.lo < datum.od"}],
     "mark": {"type": "tick", "orient": "horizontal", "size": 8, "thickness": 1, "color": "#000", "clip": true},
     "encoding": {
      "x": {"field": "t", "type": "quantitative", "scale": {"domain": [0, 15], "nice": false}, "axis": null},
      "y": {"field": "lo", "type": "quantitative", "scale": {"type": "log", "domain": [0.00079, 1], "nice": false}, "axis": null}
     }
    },
    {
     "mark": {"type": "line", "color": "#000", "strokeWidth": 1},
     "encoding": {
      "x": {"field": "t", "type": "quantitative", "scale": {"domain": [0, 15], "nice": false}, "axis": null},
      "y": {"field": "od", "type": "quantitative", "scale": {"type": "log", "domain": [0.00079, 1], "nice": false}, "axis": null},
      "detail": {"field": "s", "type": "nominal"}
     }
    },
    {
     "transform": [{"filter": "datum.s == 'WT' || datum.s == 'ΔclpC'"}],
     "mark": {"type": "point", "shape": "circle", "filled": true, "stroke": "#000", "strokeWidth": 1, "size": 120, "opacity": 1},
     "encoding": {
      "x": {"field": "t", "type": "quantitative", "scale": {"domain": [0, 15], "nice": false},
        "axis": {"orient": "bottom", "values": [0, 2, 4, 6, 8, 10, 12, 14], "title": "Time (hours)", "labelPadding": 10, "titlePadding": 13}},
      "y": {"field": "od", "type": "quantitative", "scale": {"type": "log", "domain": [0.00079, 1], "nice": false},
        "axis": {"orient": "left", "values": [0.001, 0.01, 0.1, 1], "format": "~g", "title": "Optical Density (A₆₃₀) (Log₁₀)", "titleX": -69, "titleY": 125, "titleAngle": 270, "titleAlign": "center", "titleBaseline": "middle", "labelPadding": 10}},
      "color": {"field": "s", "type": "nominal", "scale": {"domain": ["WT", "ΔclpC", "clpP::Tn", "ΔclpC clpP::Tn"], "range": ["#000000", "#e31f26", "#5aac44", "#f4ee1e"]}, "legend": null}
     }
    },
    {
     "transform": [{"filter": "datum.s == 'clpP::Tn'"}],
     "mark": {"type": "point", "shape": "triangle-down", "filled": true, "stroke": "#000", "strokeWidth": 1, "size": 120, "opacity": 1},
     "encoding": {
      "x": {"field": "t", "type": "quantitative", "scale": {"domain": [0, 15], "nice": false}, "axis": null},
      "y": {"field": "od", "type": "quantitative", "scale": {"type": "log", "domain": [0.00079, 1], "nice": false}, "axis": null},
      "color": {"field": "s", "type": "nominal", "scale": {"domain": ["WT", "ΔclpC", "clpP::Tn", "ΔclpC clpP::Tn"], "range": ["#000000", "#e31f26", "#5aac44", "#f4ee1e"]}, "legend": null}
     }
    },
    {
     "transform": [{"filter": "datum.s == 'ΔclpC clpP::Tn'"}],
     "mark": {"type": "point", "shape": "triangle-up", "filled": true, "stroke": "#000", "strokeWidth": 1, "size": 120, "opacity": 1},
     "encoding": {
      "x": {"field": "t", "type": "quantitative", "scale": {"domain": [0, 15], "nice": false}, "axis": null},
      "y": {"field": "od", "type": "quantitative", "scale": {"type": "log", "domain": [0.00079, 1], "nice": false}, "axis": null},
      "color": {"field": "s", "type": "nominal", "scale": {"domain": ["WT", "ΔclpC", "clpP::Tn", "ΔclpC clpP::Tn"], "range": ["#000000", "#e31f26", "#5aac44", "#f4ee1e"]}, "legend": null}
     }
    }
   ]
  },
  {
   "width": 235, "height": 274,
   "data": {"name": "dsD"},
   "resolve": {"axis": {"x": "independent", "y": "independent"}},
   "layer": [
    {
     "transform": [{"filter": "datum.hi != null"}],
     "mark": {"type": "rule", "color": "#000", "strokeWidth": 1, "clip": true},
     "encoding": {
      "x": {"field": "t", "type": "quantitative", "scale": {"domain": [0, 14], "nice": false},
        "axis": {"orient": "top", "title": ["Aerobic growth", "in glutamate medium"], "titleX": 114, "titleY": -45, "titleAlign": "center", "titleBaseline": "alphabetic", "titleFontSize": 22, "titleLineHeight": 25, "labels": false, "ticks": false, "domain": false}},
      "y": {"field": "lo", "type": "quantitative", "scale": {"type": "log", "domain": [0.00081, 1], "nice": false},
        "axis": {"orient": "left", "title": "D", "titleAngle": 0, "titleX": -82, "titleY": -39, "titleAlign": "left", "titleBaseline": "alphabetic", "titleFontSize": 24, "labels": false, "ticks": false, "domain": false}},
      "y2": {"field": "hi"}
     }
    },
    {
     "transform": [{"filter": "datum.hi != null"}],
     "mark": {"type": "tick", "orient": "horizontal", "size": 8, "thickness": 1, "color": "#000", "clip": true},
     "encoding": {
      "x": {"field": "t", "type": "quantitative", "scale": {"domain": [0, 14], "nice": false}, "axis": null},
      "y": {"field": "hi", "type": "quantitative", "scale": {"type": "log", "domain": [0.00081, 1], "nice": false}, "axis": null}
     }
    },
    {
     "transform": [{"filter": "datum.lo != null && datum.od != null && datum.lo < datum.od"}],
     "mark": {"type": "tick", "orient": "horizontal", "size": 8, "thickness": 1, "color": "#000", "clip": true},
     "encoding": {
      "x": {"field": "t", "type": "quantitative", "scale": {"domain": [0, 14], "nice": false}, "axis": null},
      "y": {"field": "lo", "type": "quantitative", "scale": {"type": "log", "domain": [0.00081, 1], "nice": false}, "axis": null}
     }
    },
    {
     "mark": {"type": "line", "color": "#000", "strokeWidth": 1},
     "encoding": {
      "x": {"field": "t", "type": "quantitative", "scale": {"domain": [0, 14], "nice": false}, "axis": null},
      "y": {"field": "od", "type": "quantitative", "scale": {"type": "log", "domain": [0.00081, 1], "nice": false}, "axis": null},
      "detail": {"field": "s", "type": "nominal"}
     }
    },
    {
     "transform": [{"filter": "datum.s == 'WT' || datum.s == 'ΔclpC'"}],
     "mark": {"type": "point", "shape": "circle", "filled": true, "stroke": "#000", "strokeWidth": 1, "size": 120, "opacity": 1},
     "encoding": {
      "x": {"field": "t", "type": "quantitative", "scale": {"domain": [0, 14], "nice": false},
        "axis": {"orient": "bottom", "values": [0, 2, 4, 6, 8, 10, 12, 14], "title": "Time (hours)", "labelPadding": 11, "titlePadding": 10}},
      "y": {"field": "od", "type": "quantitative", "scale": {"type": "log", "domain": [0.00081, 1], "nice": false},
        "axis": {"orient": "left", "values": [0.001, 0.01, 0.1, 1], "format": "~g", "title": "Optical Density (A₆₃₀) (Log₁₀)", "titleX": -70, "titleY": 131.5, "titleAngle": 270, "titleAlign": "center", "titleBaseline": "middle", "labelPadding": 9}},
      "color": {"field": "s", "type": "nominal", "scale": {"domain": ["WT", "ΔclpC", "clpP::Tn", "ΔclpC clpP::Tn"], "range": ["#000000", "#e31f26", "#5aac44", "#f4ee1e"]}, "legend": null}
     }
    },
    {
     "transform": [{"filter": "datum.s == 'clpP::Tn'"}],
     "mark": {"type": "point", "shape": "triangle-down", "filled": true, "stroke": "#000", "strokeWidth": 1, "size": 120, "opacity": 1},
     "encoding": {
      "x": {"field": "t", "type": "quantitative", "scale": {"domain": [0, 14], "nice": false}, "axis": null},
      "y": {"field": "od", "type": "quantitative", "scale": {"type": "log", "domain": [0.00081, 1], "nice": false}, "axis": null},
      "color": {"field": "s", "type": "nominal", "scale": {"domain": ["WT", "ΔclpC", "clpP::Tn", "ΔclpC clpP::Tn"], "range": ["#000000", "#e31f26", "#5aac44", "#f4ee1e"]}, "legend": null}
     }
    },
    {
     "transform": [{"filter": "datum.s == 'ΔclpC clpP::Tn'"}],
     "mark": {"type": "point", "shape": "triangle-up", "filled": true, "stroke": "#000", "strokeWidth": 1, "size": 120, "opacity": 1},
     "encoding": {
      "x": {"field": "t", "type": "quantitative", "scale": {"domain": [0, 14], "nice": false}, "axis": null},
      "y": {"field": "od", "type": "quantitative", "scale": {"type": "log", "domain": [0.00081, 1], "nice": false}, "axis": null},
      "color": {"field": "s", "type": "nominal", "scale": {"domain": ["WT", "ΔclpC", "clpP::Tn", "ΔclpC clpP::Tn"], "range": ["#000000", "#e31f26", "#5aac44", "#f4ee1e"]}, "legend": null}
     }
    }
   ]
  }
 ], "spacing": 52, "resolve": {"scale": {"fill": "independent", "shape": "independent", "color": "independent", "stroke": "independent"}, "legend": {"fill": "independent", "shape": "independent", "color": "independent", "stroke": "independent"}}}
]
}
